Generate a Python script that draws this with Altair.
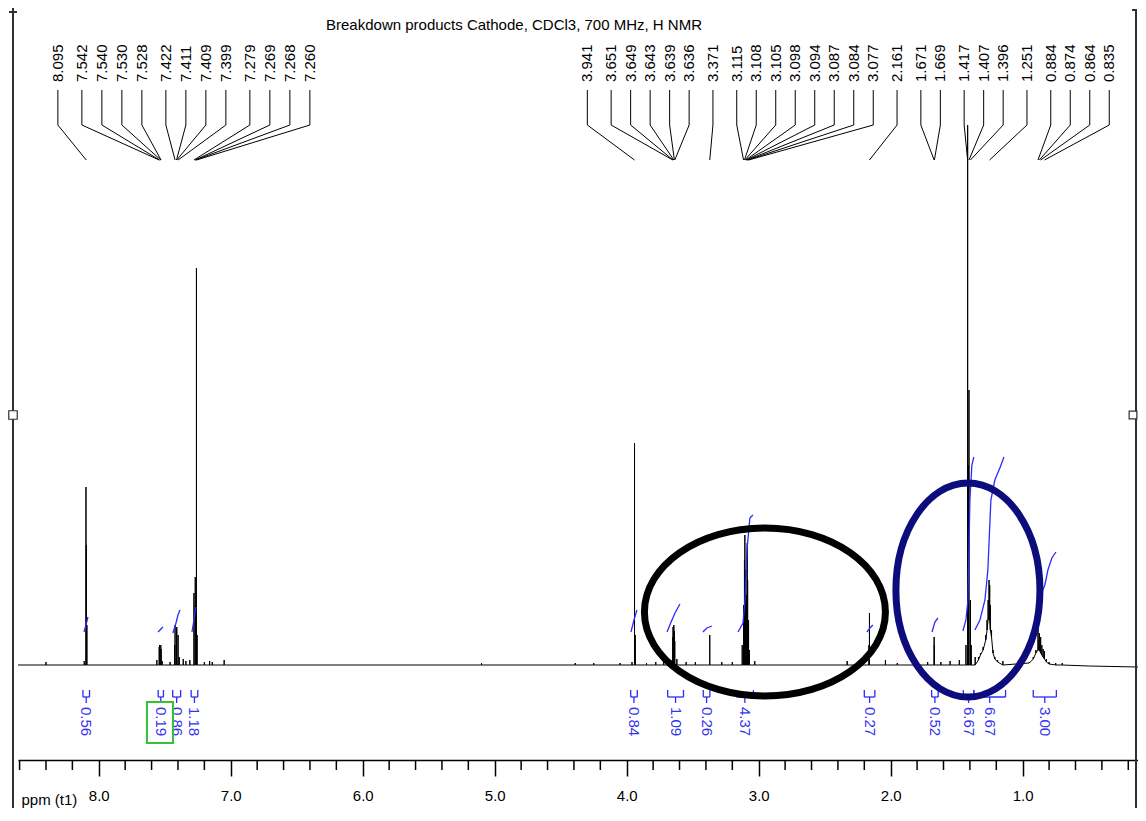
import altair as alt
import pandas as pd

FONT = "Liberation Sans"
TITLE = "Breakdown products Cathode, CDCl3, 700 MHz, H NMR"
AXIS_TITLE = "ppm (t1)"

# ---------------- axis ticks ----------------
major_ticks = [8.0, 7.0, 6.0, 5.0, 4.0, 3.0, 2.0, 1.0]
minor_ticks = [8.6, 8.4, 8.2, 7.8, 7.6, 7.4, 7.2, 6.8, 6.6, 6.4, 6.2, 5.8, 5.6, 5.4, 5.2,
               4.8, 4.6, 4.4, 4.2, 3.8, 3.6, 3.4, 3.2, 2.8, 2.6, 2.4, 2.2, 1.8, 1.6, 1.4,
               1.2, 0.8, 0.6, 0.4, 0.2]

# ---------------- peak-picking labels (ppm) ----------------
label_ppm_left = [8.095, 7.542, 7.540, 7.530, 7.528, 7.422, 7.411, 7.409, 7.399,
                  7.279, 7.269, 7.268, 7.260]
label_group_left = [0, 1, 1, 1, 1, 2, 2, 2, 2, 3, 3, 3, 3]
label_ppm_right = [3.941, 3.651, 3.649, 3.643, 3.639, 3.636, 3.371, 3.115, 3.108, 3.105,
                   3.098, 3.094, 3.087, 3.084, 3.077, 2.161, 1.671, 1.669, 1.417, 1.407,
                   1.396, 1.251, 0.884, 0.874, 0.864, 0.835]
label_group_right = [0, 1, 1, 1, 1, 1, 2, 3, 3, 3, 3, 3, 3, 3, 3, 4, 5, 5, 6, 6, 6, 7, 8, 8, 8, 8]

# ---------------- spectrum (ppm, line top, line base) ----------------
stick_ppm = [8.612, 8.40, 8.11, 8.097, 8.094, 8.090, 7.56, 7.542, 7.540, 7.530, 7.528, 7.52,
             7.46, 7.425, 7.422, 7.411, 7.409, 7.399, 7.39, 7.36, 7.34, 7.31, 7.279, 7.269,
             7.268, 7.260, 7.255, 7.20, 7.16, 7.14, 7.05,
             5.10, 4.39, 4.25, 4.05, 3.960, 3.941, 3.935, 3.85, 3.78, 3.72, 3.665, 3.651,
             3.649, 3.643, 3.639, 3.636, 3.62, 3.55, 3.48, 3.371, 3.28, 3.20, 3.125, 3.115,
             3.108, 3.105, 3.098, 3.094, 3.087, 3.084, 3.077, 3.070, 3.03, 2.33, 2.25,
             2.165, 2.161, 2.04, 1.95, 1.80, 1.72, 1.671, 1.669, 1.62, 1.55, 1.48, 1.43,
             1.417, 1.412, 1.407, 1.396, 1.39, 1.36, 1.335, 1.32, 1.30, 1.28, 1.27, 1.262,
             1.255, 1.25, 1.245, 1.236, 1.225, 1.211, 1.19, 1.15, 0.95, 0.92, 0.90, 0.884,
             0.879, 0.874, 0.864, 0.855, 0.845, 0.835, 0.82, 0.80, 0.75, 0.70, 0.50, 0.126]
stick_top = [0, 3, 4, 178, 120, 40, 5, 18, 20, 20, 16, 4,
             3, 20, 40, 36, 38, 30, 8, 6, 4, 5, 72, 88,
             60, 397, 30, 3, 4, 3, 5,
             2, 2, 2, 2, 3, 222, 30, 2, 3, 3, 5, 28,
             38, 40, 34, 24, 6, 3, 3, 30, 3, 3, 20, 60,
             105, 130, 95, 70, 122, 85, 45, 15, 4, 4, 3,
             20, 52, 5, 2, 3, 3, 28, 20, 3, 4, 5, 20,
             540, 200, 275, 65, 20, 8, 8, 12, 18, 30, 45, 65,
             85, 80, 60, 35, 15, 8, 5, 4, 3, 8, 15, 37,
             25, 32, 28, 20, 16, 14, 6, 3, 2, 2, -1, -2]
stick_base = [0, 0, 0, 0, 0, 0, 0, 0, 0, 0, 0, 0,
              0, 0, 0, 0, 0, 0, 0, 0, 0, 0, 0, 0,
              0, 0, 0, 0, 0, 0, 0,
              0, 0, 0, 0, 0, 0, 0, 0, 0, 0, 0, 0,
              0, 0, 0, 0, 0, 0, 0, 0, 0, 0, 0, 0,
              0, 0, 0, 0, 0, 0, 0, 0, 0, 0, 0,
              0, 0, 0, 0, 0, 0, 0, 0, 0, 0, 0, 0,
              0, 0, 0, 0, 0, 0, 5, 10, 15, 25, 35, 45,
              50, 45, 35, 28, 12, 6, 3, 0, 2, 6, 12, 15,
              15, 15, 12, 10, 8, 6, 3, 1, 0, 0, -1, -2]

# ---------------- integrals ----------------
integral_value = ["0.56", "0.19", "0.86", "1.18", "0.84", "1.09", "0.26", "4.37", "0.27",
                  "0.52", "6.67", "6.67", "3.00"]
integral_from = [8.12, 7.55, 7.44, 7.30, 3.97, 3.69, 3.42, 3.17, 2.20, 1.69, 1.45, 1.37, 0.92]
integral_to = [8.07, 7.51, 7.38, 7.25, 3.92, 3.57, 3.37, 3.04, 2.12, 1.64, 1.37, 1.13, 0.745]

curve_ppm = [
    [8.112, 8.097, 8.082],
    [7.551, 7.514],
    [7.438, 7.415, 7.400, 7.385],
    [7.294, 7.279, 7.264],
    [3.968, 3.945, 3.923],
    [3.695, 3.664, 3.634, 3.597],
    [3.423, 3.392, 3.355],
    [3.157, 3.119, 3.104, 3.089, 3.067, 3.044],
    [2.180, 2.157, 2.135],
    [1.687, 1.665, 1.642],
    [1.453, 1.430, 1.415, 1.400, 1.385, 1.370],
    [1.362, 1.324, 1.286, 1.264, 1.241, 1.211, 1.173, 1.142],
    [0.870, 0.832, 0.809, 0.779, 0.748],
]
curve_int = [
    [33, 40, 48],
    [33, 38],
    [32, 42, 50, 55],
    [33, 45, 58],
    [33, 45, 55],
    [33, 43, 52, 61],
    [33, 37, 39],
    [33, 42, 65, 115, 147, 150],
    [33, 37, 40],
    [33, 43, 47],
    [34, 45, 65, 165, 200, 208],
    [35, 45, 65, 95, 165, 185, 197, 208],
    [68, 80, 95, 107, 113],
]

# highlighted annotations (centre ppm, centre height)
ellipse_black_center = (2.953, 53)
ellipse_navy_center = (1.415, 75)
green_box_ppm = (7.635, 7.438)
green_box_int = (-37, -78)

# ---------------- layout constants ----------------
PX_PER_PPM = 131.98
LEFT_START, LEFT_STEP, LEFT_GAP = 8.310, 20.0, 4.0
RIGHT_START, RIGHT_STEP, RIGHT_GAP = 4.2985, 19.5, 4.3
Y_TEXT, Y_V_TOP, Y_V_BOT, Y_CONV = 583, 575, 540, 505
Y_BR, Y_BR_UP, Y_BR_DN, Y_INT_TXT = -32, -25, -38, -42

BLUE = "#2b2bff"
TXT_BLUE = "#3434f0"
K = 0.5523  # bezier circle constant


def ellipse_path(rx, ry):
    kx, ky = rx * K, ry * K
    return (f"M {-rx} 0 C {-rx} {-ky} {-kx} {-ry} 0 {-ry} "
            f"C {kx} {-ry} {rx} {-ky} {rx} 0 "
            f"C {rx} {ky} {kx} {ry} 0 {ry} "
            f"C {-kx} {ry} {-rx} {ky} {-rx} 0 Z")


def spread(start, step, gap, groups):
    pos, x, prev = [], start, None
    for g in groups:
        if prev is not None:
            x -= (step + (gap if g != prev else 0.0)) / PX_PER_PPM
        pos.append(x)
        prev = g
    return pos


lab_x = spread(LEFT_START, LEFT_STEP, LEFT_GAP, label_group_left) + \
    spread(RIGHT_START, RIGHT_STEP, RIGHT_GAP, label_group_right)
lab_p = label_ppm_left + label_ppm_right
labels_df = pd.DataFrame({"lx": lab_x, "px": lab_p, "text": [f"{p:.3f}" for p in lab_p]})
labels_df["ty"] = Y_TEXT
labels_df["vt"] = Y_V_TOP
labels_df["vb"] = Y_V_BOT
labels_df["cv"] = Y_CONV

rows = []
k = 0
for p, t, b in zip(stick_ppm, stick_top, stick_base):
    for v in (b, t, b):
        rows.append({"ppm": p, "intensity": v, "ord": k})
        k += 1
spec_df = pd.DataFrame(rows)

crow = []
k = 0
for i, (ps, hs) in enumerate(zip(curve_ppm, curve_int)):
    for p, h in zip(ps, hs):
        crow.append({"region": i, "ppm": p, "intensity": h, "ord": k})
        k += 1
curve_df = pd.DataFrame(crow)

br_df = pd.DataFrame({"a": integral_from, "b": integral_to,
                      "c": [(a + b) / 2 for a, b in zip(integral_from, integral_to)],
                      "label": integral_value})
br_df["yb"] = Y_BR
br_df["yd"] = Y_BR_DN
br_df["yt"] = Y_INT_TXT
ends_df = pd.DataFrame({"e": integral_from + integral_to})
ends_df["yb"] = Y_BR
ends_df["yu"] = Y_BR_UP
minor_df = pd.DataFrame({"t": minor_ticks})

x_scale = alt.Scale(domain=[0.1264, 8.612], reverse=True, nice=False, zero=False)
y_scale = alt.Scale(domain=[-95, 625], nice=False, zero=False)

X_AXIS = alt.Axis(
    values=major_ticks, format=".1f", orient="bottom", grid=False,
    tickSize=16, tickWidth=1.5, tickColor="black", domainColor="black", domainWidth=1.5,
    labelFont=FONT, labelFontSize=15, labelColor="black", labelPadding=12,
    labelFlush=False,
    title=AXIS_TITLE, titleX=3, titleY=39, titleAlign="left", titleBaseline="middle",
    titleAnchor="start", titleAngle=0,
    titleFont=FONT, titleFontSize=15, titleFontWeight="normal", titleColor="black")


def X(f):
    return alt.X(f, scale=x_scale, axis=X_AXIS)


def Y(f):
    return alt.Y(f, scale=y_scale, axis=None)


spectrum = alt.Chart(spec_df).mark_line(color="black", strokeWidth=1).encode(
    x=X("ppm:Q"), y=Y("intensity:Q"), order="ord:Q")

minor = alt.Chart(minor_df).mark_rule(color="black", strokeWidth=1.5).encode(
    x=X("t:Q"), y=alt.value(720), y2=alt.value(730))

curves = alt.Chart(curve_df).mark_line(color=BLUE, strokeWidth=1.3).encode(
    x=X("ppm:Q"), y=Y("intensity:Q"), detail="region:N", order="ord:Q")

br_h = alt.Chart(br_df).mark_rule(color=BLUE, strokeWidth=1.3).encode(
    x=X("a:Q"), x2="b:Q", y=Y("yb:Q"))
br_c = alt.Chart(br_df).mark_rule(color=BLUE, strokeWidth=1.3).encode(
    x=X("c:Q"), y=Y("yb:Q"), y2="yd:Q")
br_e = alt.Chart(ends_df).mark_rule(color=BLUE, strokeWidth=1.3).encode(
    x=X("e:Q"), y=Y("yb:Q"), y2="yu:Q")
br_t = alt.Chart(br_df).mark_text(color=TXT_BLUE, font=FONT, fontSize=15, angle=90,
                                  align="left", baseline="middle").encode(
    x=X("c:Q"), y=Y("yt:Q"), text="label:N")

con_v = alt.Chart(labels_df).mark_rule(color="black", strokeWidth=1).encode(
    x=X("lx:Q"), y=Y("vt:Q"), y2="vb:Q")
con_d = alt.Chart(labels_df).mark_rule(color="black", strokeWidth=1).encode(
    x=X("lx:Q"), x2="px:Q", y=Y("vb:Q"), y2="cv:Q")
lab_t = alt.Chart(labels_df).mark_text(color="black", font=FONT, fontSize=15, angle=270,
                                       align="left", baseline="middle").encode(
    x=X("lx:Q"), y=Y("ty:Q"), text="text:N")

ell_b = alt.Chart(pd.DataFrame({"ppm": [ellipse_black_center[0]],
                                "intensity": [ellipse_black_center[1]]})).mark_point(
    shape=ellipse_path(1.0, 0.697), size=58081,
    filled=False, color="black", strokeWidth=7, opacity=1).encode(
    x=X("ppm:Q"), y=Y("intensity:Q"))
ell_n = alt.Chart(pd.DataFrame({"ppm": [ellipse_navy_center[0]],
                                "intensity": [ellipse_navy_center[1]]})).mark_point(
    shape=ellipse_path(0.673, 1.0), size=45796,
    filled=False, color="#0c0c7c", strokeWidth=7, opacity=1).encode(
    x=X("ppm:Q"), y=Y("intensity:Q"))
green = alt.Chart(pd.DataFrame({"a": [green_box_ppm[0]], "b": [green_box_ppm[1]],
                                "c": [green_box_int[0]], "d": [green_box_int[1]]})).mark_rect(
    fill="transparent", stroke="#36c036", strokeWidth=2).encode(
    x=X("a:Q"), x2="b:Q", y=Y("c:Q"), y2="d:Q")

one = pd.DataFrame({"t": [TITLE]})
FR = "#303030"
title_t = alt.Chart(one).mark_text(font=FONT, fontSize=15, color="black", align="center",
                                   baseline="middle").encode(
    x=alt.value(496), y=alt.value(-15), text="t:N")
fr1 = alt.Chart(one).mark_rule(color=FR, strokeWidth=2).encode(
    x=alt.value(-5), y=alt.value(-32), y2=alt.value(775))
fr2 = alt.Chart(one).mark_rule(color=FR, strokeWidth=2).encode(
    x=alt.value(-9), x2=alt.value(-1), y=alt.value(-28))
fr3 = alt.Chart(one).mark_rule(color=FR, strokeWidth=2).encode(
    x=alt.value(1118), y=alt.value(-30), y2=alt.value(775))
fr4 = alt.Chart(one).mark_rule(color=FR, strokeWidth=2).encode(
    x=alt.value(1114), x2=alt.value(1119), y=alt.value(-30))
fr5 = alt.Chart(one).mark_square(size=72, filled=True, color="white", stroke=FR,
                                 strokeWidth=1.2, opacity=1).encode(
    x=alt.value(-5), y=alt.value(375))
fr6 = alt.Chart(one).mark_square(size=60, filled=True, color="white", stroke=FR,
                                 strokeWidth=1.2, opacity=1).encode(
    x=alt.value(1115), y=alt.value(375))

chart = alt.layer(
    spectrum, minor, curves, br_h, br_c, br_e, br_t, con_v, con_d, lab_t, title_t,
    fr1, fr2, fr3, fr4, fr5, fr6, ell_b, ell_n, green
).properties(
    width=1120, height=720,
    padding={"left": 10, "top": 32, "right": 0, "bottom": 48},
    autosize=alt.AutoSizeParams(type="none"),
    background="white",
).configure_view(strokeWidth=0)

chart.save("out.html", embed_options={"renderer": "svg", "actions": False})
